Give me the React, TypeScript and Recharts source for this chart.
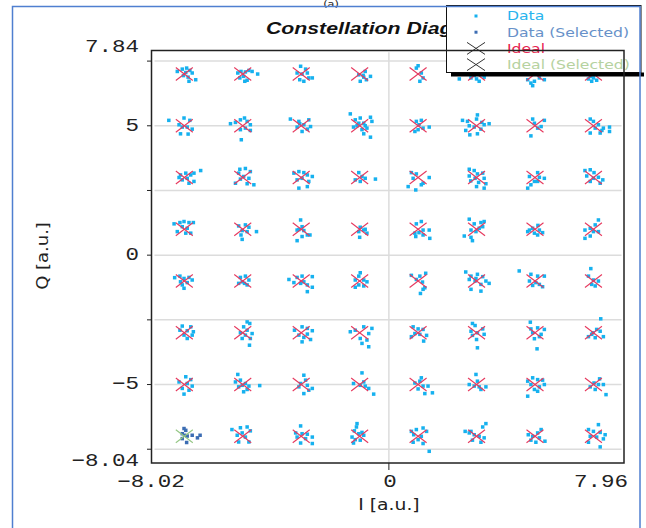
import { ScatterChart, Scatter, XAxis, YAxis, CartesianGrid } from 'recharts';

type Pt = [number, number];

const I_DOMAIN: [number, number] = [-8.02, 7.96];
const Q_DOMAIN: [number, number] = [-8.04, 7.84];
const X_TICKS = [-8.02, 0, 7.96];
const Y_TICKS = [-8.04, -7.5, -5, -2.5, 0, 2.5, 5, 7.5, 7.84];
const Y_LABELED = [7.84, 5, 0, -5, -8.04];
const GRID_Q = [-7.5, -5, -2.5, 0, 2.5, 5, 7.5];
const GRID_I = [0];
const LEVELS = [-7, -5, -3, -1, 1, 3, 5, 7];
const SELECTED_IDEAL: Pt[] = [[-7, -7]];

// received symbols, one array per Q row
const rowQ7: Pt[] = [
  [-7.24, 7.1], [-7.07, 7.19], [-6.92, 7.23], [-6.81, 7.14], [-6.73, 7.04], [-6.87, 6.88], [-7.03, 6.94], [-6.84, 6.72], [-6.61, 6.78], [-6.95, 7.06],
  [-5.17, 7.04], [-5.06, 7.1], [-4.91, 7.08], [-4.79, 7.14], [-4.68, 7.1], [-4.49, 7.0], [-4.97, 6.91], [-5.1, 6.85], [-4.85, 6.76], [-4.93, 6.72],
  [-3.02, 7.3], [-2.85, 7.19], [-3.14, 7.04], [-2.97, 7.0], [-2.79, 7.04], [-2.74, 6.85], [-3.05, 6.78], [-2.91, 6.72], [-2.62, 6.85],
  [-0.81, 7.1], [-0.63, 6.91], [-0.86, 6.88], [-0.98, 6.72], [-0.77, 6.78], [-1.03, 6.97], [-0.88, 6.95],
  [1.0, 7.32], [0.94, 7.23], [1.11, 7.04], [1.17, 6.85], [1.06, 6.72],
  [2.41, 6.81], [2.81, 6.85], [3.0, 6.81], [3.09, 6.72], [3.26, 6.88], [2.92, 6.94], [3.15, 6.97], [2.86, 7.17], [3.09, 7.14],
  [4.75, 6.78], [4.86, 6.65], [4.98, 6.72], [5.15, 6.85], [5.32, 6.78], [4.92, 6.55], [5.05, 7.1], [4.9, 7.2],
  [6.83, 6.81], [7.0, 6.85], [7.11, 6.76], [6.94, 6.72], [6.89, 6.91], [7.06, 7.12],
];
const rowQ5: Pt[] = [
  [-7.53, 5.21], [-7.01, 5.3], [-6.81, 5.21], [-7.18, 5.04], [-7.07, 4.95], [-6.9, 4.95], [-7.13, 4.69], [-6.87, 4.68], [-6.73, 4.87],
  [-5.42, 5.08], [-5.25, 5.13], [-5.08, 5.23], [-4.94, 5.3], [-4.85, 5.17], [-4.74, 5.04], [-4.91, 4.91], [-4.74, 4.82], [-5.08, 4.85], [-5.05, 4.46],
  [-3.37, 5.26], [-3.08, 5.17], [-2.74, 5.23], [-2.91, 5.04], [-3.14, 4.95], [-2.68, 4.97], [-2.97, 4.78], [-2.79, 4.87], [-3.05, 5.08],
  [-1.32, 5.46], [-1.15, 5.23], [-0.98, 5.3], [-0.63, 5.33], [-0.58, 5.17], [-0.86, 5.1], [-1.09, 5.0], [-1.21, 4.95], [-0.92, 4.85], [-0.75, 4.91], [-0.63, 4.56], [-0.86, 4.69], [-1.03, 5.1], [-0.81, 5.0],
  [0.94, 5.17], [1.11, 5.21], [1.03, 5.04], [1.17, 4.91], [1.38, 4.95], [0.89, 4.78], [1.0, 4.85],
  [2.52, 5.21], [2.69, 5.17], [3.03, 5.42], [3.0, 5.26], [3.18, 5.13], [3.43, 5.08], [2.75, 5.0], [2.92, 4.95], [3.15, 4.87], [2.63, 4.82], [2.77, 4.65], [3.03, 4.69], [3.26, 5.04],
  [4.92, 5.26], [5.32, 5.21], [4.98, 5.1], [5.09, 4.91], [4.86, 4.61], [5.21, 4.97],
  [6.89, 5.26], [7.0, 5.17], [7.17, 5.04], [7.06, 4.91], [6.89, 4.72], [7.23, 4.72], [7.34, 4.91], [7.55, 4.95], [7.55, 4.78], [7.29, 4.82],
];
const rowQ3: Pt[] = [
  [-7.13, 3.1], [-6.95, 3.17], [-6.78, 3.1], [-6.67, 3.17], [-6.44, 3.27], [-6.9, 2.97], [-7.07, 2.91], [-6.67, 2.85], [-6.84, 2.78], [-7.18, 3.0],
  [-5.1, 3.32], [-4.91, 3.35], [-4.74, 3.23], [-5.14, 3.17], [-4.97, 3.04], [-4.79, 2.97], [-5.25, 2.78], [-4.85, 2.76], [-4.62, 2.72], [-5.08, 2.94],
  [-3.25, 3.17], [-3.08, 3.23], [-2.91, 3.19], [-2.79, 3.1], [-2.62, 3.04], [-2.97, 2.97], [-2.74, 2.85], [-2.79, 2.65], [-3.08, 2.59], [-3.14, 2.91],
  [-1.03, 3.19], [-0.92, 3.04], [-0.81, 2.97], [-0.98, 2.85], [-0.46, 2.94], [-1.15, 2.91],
  [0.77, 3.19], [0.94, 3.14], [0.83, 2.97], [0.66, 2.65], [0.92, 2.52], [1.11, 2.72], [1.38, 3.0], [1.17, 2.78],
  [2.75, 3.32], [2.92, 3.27], [3.03, 3.14], [3.21, 3.17], [2.75, 3.06], [2.95, 2.97], [3.26, 2.97], [3.07, 2.81], [3.32, 2.76], [3.0, 2.65], [3.26, 2.59], [2.8, 2.87],
  [5.09, 3.19], [4.81, 3.04], [5.15, 3.01], [5.32, 2.97], [4.98, 2.85], [4.86, 2.72], [4.75, 2.59], [5.09, 2.85],
  [6.71, 3.27], [6.89, 3.3], [7.02, 3.19], [6.77, 3.06], [7.0, 2.97], [7.17, 3.01], [7.32, 2.91], [6.89, 2.85], [7.23, 2.78],
];
const rowQ1: Pt[] = [
  [-7.35, 1.21], [-7.15, 1.26], [-7.01, 1.3], [-6.84, 1.26], [-6.69, 1.26], [-7.07, 1.1], [-6.9, 1.04], [-7.24, 0.91], [-6.95, 0.85], [-6.78, 0.85],
  [-5.14, 1.13], [-4.91, 1.17], [-4.79, 1.08], [-5.02, 0.95], [-4.85, 0.91], [-4.53, 0.91], [-5.06, 0.78], [-5.02, 0.61],
  [-3.02, 1.36], [-2.97, 1.1], [-3.14, 0.97], [-2.91, 0.95], [-2.79, 0.78], [-2.7, 0.78], [-2.97, 0.72], [-3.14, 0.56], [-3.08, 0.99],
  [-0.98, 1.08], [-0.86, 0.97], [-0.81, 1.0], [-1.03, 0.91], [-1.0, 0.69], [-0.75, 0.85],
  [0.94, 1.21], [1.11, 1.3], [1.17, 0.97], [1.38, 0.97], [0.89, 0.85], [1.03, 0.87], [0.92, 0.72], [1.17, 0.78], [1.4, 0.65],
  [2.75, 1.39], [2.92, 1.21], [3.15, 1.26], [3.26, 1.3], [2.81, 0.97], [3.09, 1.04], [2.98, 0.91], [2.58, 0.74], [2.81, 0.69], [2.86, 0.56], [3.21, 1.1],
  [4.81, 0.97], [4.92, 1.04], [5.15, 0.97], [5.26, 0.87], [4.98, 0.85], [4.75, 0.91], [5.09, 0.78], [5.1, 1.15],
  [7.17, 1.36], [7.06, 1.17], [6.89, 1.04], [6.71, 0.97], [7.0, 0.91], [7.17, 0.91], [6.89, 0.74], [6.71, 0.65],
];
const rowQm1: Pt[] = [
  [-7.33, -0.87], [-7.15, -0.81], [-7.01, -0.9], [-6.84, -0.86], [-6.73, -0.96], [-7.07, -1.15], [-7.01, -1.28], [-6.9, -1.06], [-7.13, -1.03],
  [-5.08, -0.86], [-4.91, -0.81], [-4.79, -0.96], [-5.02, -1.03], [-4.85, -1.15], [-5.14, -1.09], [-4.94, -1.09],
  [-3.42, -0.94], [-3.14, -0.86], [-2.97, -0.81], [-2.62, -0.83], [-2.91, -1.03], [-3.02, -1.09], [-2.79, -1.15], [-2.62, -1.24], [-2.79, -1.41], [-3.25, -1.06],
  [-0.98, -0.68], [-1.03, -0.81], [-1.15, -0.96], [-0.86, -0.96], [-0.75, -1.03], [-1.03, -1.15], [-0.86, -1.19], [-1.15, -1.24],
  [0.77, -0.78], [1.06, -0.81], [1.26, -0.7], [0.94, -0.94], [1.15, -1.04], [1.23, -1.26], [1.17, -1.32], [1.08, -1.48],
  [2.63, -0.65], [2.81, -0.81], [3.03, -0.74], [3.21, -0.83], [3.32, -1.0], [3.43, -1.09], [2.75, -0.94], [2.95, -1.0], [3.15, -1.13], [2.81, -1.32], [3.15, -1.39], [2.98, -0.9],
  [4.46, -0.61], [4.86, -0.74], [5.09, -0.81], [5.32, -0.81], [4.81, -1.0], [5.03, -1.06], [4.92, -1.17], [5.26, -1.22], [5.15, -1.13],
  [6.91, -0.52], [6.83, -0.81], [7.0, -0.96], [7.17, -1.0], [6.94, -1.13], [7.06, -1.19],
];
const rowQm3: Pt[] = [
  [-7.07, -2.74], [-6.78, -2.77], [-7.15, -2.9], [-6.9, -2.92], [-6.69, -2.96], [-7.01, -3.09], [-6.73, -3.09], [-6.9, -3.22],
  [-4.85, -2.58], [-4.76, -2.64], [-4.97, -2.77], [-5.08, -3.0], [-4.91, -3.09], [-5.02, -3.22], [-4.74, -3.22], [-4.77, -3.48], [-4.85, -2.9], [-4.68, -3.03],
  [-3.23, -2.9], [-2.97, -2.77], [-2.79, -2.83], [-2.62, -2.92], [-3.08, -3.09], [-2.91, -3.18], [-2.68, -3.26], [-2.97, -3.35], [-2.79, -3.05],
  [-1.32, -2.96], [-1.15, -2.9], [-0.86, -2.77], [-0.58, -2.83], [-0.69, -3.03], [-0.98, -3.22], [-0.75, -3.28], [-0.92, -3.41], [-0.69, -3.54],
  [0.83, -2.77], [1.0, -2.85], [1.17, -2.87], [0.89, -3.03], [1.06, -3.06], [1.29, -3.1], [0.77, -3.15], [1.19, -3.32],
  [2.86, -2.64], [2.95, -2.72], [3.21, -2.85], [2.81, -2.94], [3.03, -3.0], [3.26, -3.06], [2.86, -3.1], [3.0, -3.26], [3.03, -3.58],
  [4.84, -2.59], [4.86, -2.85], [5.09, -2.81], [5.32, -2.87], [4.92, -3.0], [5.21, -3.06], [4.98, -3.23], [5.07, -3.62], [5.15, -3.15],
  [7.25, -2.46], [7.11, -2.87], [7.23, -2.94], [7.34, -3.15], [6.94, -3.06], [6.83, -3.15], [7.06, -3.19], [6.98, -3.0],
];
const rowQm5: Pt[] = [
  [-6.95, -4.7], [-6.78, -4.81], [-7.18, -4.9], [-6.9, -4.96], [-6.73, -5.06], [-7.07, -5.15], [-7.01, -5.37], [-6.84, -5.22],
  [-5.17, -4.61], [-5.25, -4.9], [-5.08, -4.83], [-4.91, -4.96], [-4.79, -5.06], [-5.14, -5.09], [-4.97, -5.28], [-4.85, -5.19], [-4.42, -5.04], [-5.02, -5.03],
  [-2.91, -4.64], [-2.85, -4.83], [-3.02, -4.96], [-2.79, -5.03], [-2.62, -5.15], [-3.08, -5.09], [-2.91, -5.35], [-2.74, -5.22],
  [-0.92, -4.55], [-1.21, -4.96], [-0.98, -5.03], [-0.81, -5.06], [-0.69, -5.15], [-0.52, -5.37], [-0.86, -4.9],
  [1.11, -4.74], [1.06, -4.87], [0.89, -4.94], [1.17, -5.06], [1.34, -5.06], [1.0, -5.17], [1.23, -5.35], [1.49, -5.32],
  [2.98, -4.61], [2.75, -5.0], [2.92, -5.06], [3.09, -5.09], [3.32, -5.09], [3.03, -4.87], [3.15, -5.19],
  [4.75, -4.87], [4.92, -4.74], [5.09, -4.81], [5.26, -4.83], [4.86, -5.0], [5.15, -5.09], [4.98, -5.19], [4.75, -5.45], [5.32, -5.0], [5.09, -5.26],
  [7.21, -4.78], [7.02, -4.94], [7.17, -5.0], [7.34, -5.0], [6.89, -5.09], [7.06, -5.19], [7.43, -5.39],
];
const rowQm7: Pt[] = [
  [-5.37, -6.74], [-5.08, -6.67], [-4.85, -6.64], [-4.74, -6.79], [-5.02, -6.87], [-5.19, -6.96], [-4.91, -7.03], [-5.14, -7.22], [-4.79, -7.22],
  [-3.02, -6.6], [-3.19, -6.87], [-2.97, -6.9], [-2.79, -6.92], [-2.62, -7.03], [-3.14, -7.03], [-2.85, -7.09], [-3.02, -7.26], [-2.62, -7.28],
  [-1.09, -6.51], [-1.11, -6.64], [-1.18, -6.79], [-1.03, -6.9], [-1.26, -7.03], [-1.15, -7.13], [-0.86, -6.96], [-0.98, -7.15], [-1.21, -7.26], [-0.92, -6.85],
  [0.77, -6.81], [0.94, -6.74], [1.17, -6.68], [1.29, -6.81], [0.85, -6.94], [1.11, -7.0], [1.0, -7.13], [0.83, -7.23], [1.17, -7.28], [1.38, -7.58],
  [3.32, -6.51], [3.21, -6.64], [2.61, -6.81], [2.75, -6.87], [2.92, -6.94], [3.09, -7.0], [3.26, -7.06], [2.86, -7.15], [3.15, -7.23], [2.81, -6.81],
  [5.21, -6.74], [5.09, -6.87], [4.77, -6.94], [4.92, -7.0], [5.15, -7.06], [5.34, -7.19], [4.86, -7.15], [5.03, -7.23],
  [7.17, -6.55], [6.83, -6.74], [7.0, -6.81], [7.23, -6.85], [7.4, -6.94], [6.89, -7.0], [7.11, -7.03], [6.83, -7.23], [7.23, -7.41], [7.34, -7.1],
];
// the selected cluster (bottom-left)
const selectedData: Pt[] = [
  [-7.01, -6.7], [-6.95, -6.77], [-7.07, -6.9], [-6.99, -6.96], [-6.9, -6.99], [-6.73, -6.96], [-6.55, -7.06], [-6.46, -6.96], [-6.92, -7.24], [-7.07, -7.09],
];

const C_DATA = '#16b1ef';
const C_SEL = '#3c6db3';
const C_IDEAL = '#e6395e';
const C_IDEAL_SEL = '#93c683';

const toPts = (arr: Pt[]) => arr.map(([i, q]) => ({ i, q }));
const dataPts = toPts([...rowQ7, ...rowQ5, ...rowQ3, ...rowQ1, ...rowQm1, ...rowQm3, ...rowQm5, ...rowQm7]);
const selPts = toPts(selectedData);
const isSel = (i: number, q: number) => SELECTED_IDEAL.some(([a, b]) => a === i && b === q);
const idealPts = toPts(LEVELS.flatMap((q) => LEVELS.filter((i) => !isSel(i, q)).map((i) => [i, q] as Pt)));
const idealSelPts = toPts(SELECTED_IDEAL);

const Dot = (color: string) => (p: any) => <rect x={p.cx - 1.75} y={p.cy - 1.75} width={3.5} height={3.5} fill={color} />;
const Cross = (color: string, w = 8.5, h = 6.5) => (p: any) => (
  <g stroke={color} strokeWidth={1.1}>
    <line x1={p.cx - w} y1={p.cy - h} x2={p.cx + w} y2={p.cy + h} />
    <line x1={p.cx - w} y1={p.cy + h} x2={p.cx + w} y2={p.cy - h} />
  </g>
);

const MONO = '"Liberation Mono", "Courier New", monospace';
const SANS = '"DejaVu Sans", Verdana, sans-serif';
const fmt = (v: number) => (v < 0 ? '\u2212' + Math.abs(v) : String(v));

const YTick = ({ y, payload }: any) => {
  const v = payload.value;
  const dy = v === 7.84 ? -5 : v === -8.04 ? -2 : 0;
  return (
    <g>
      {GRID_Q.includes(v) && <line x1={147} x2={152} y1={y} y2={y} stroke="#222" />}
      {Y_LABELED.includes(v) && (
        <text transform={`translate(139,${y + dy}) scale(1.25,1)`} textAnchor="end" dominantBaseline="central" fontFamily={MONO} fontSize={18} fill="#222">
          {fmt(v)}
        </text>
      )}
    </g>
  );
};

const XTick = ({ x, payload }: any) => {
  const v = payload.value;
  const anchor = v === 7.96 ? 'end' : 'middle';
  const tx = v === 7.96 ? 628 : v === -8.02 ? 151 : x + 1;
  return (
    <g>
      {v === 0 && <line x1={x} x2={x} y1={463} y2={470} stroke="#222" />}
      <text transform={`translate(${tx},482) scale(1.25,1)`} textAnchor={anchor} dominantBaseline="central" fontFamily={MONO} fontSize={18} fill="#222">
        {fmt(v)}
      </text>
    </g>
  );
};

const legendRows = [
  { label: 'Data', color: '#27b4ee', marker: 'dot', mcolor: C_DATA },
  { label: 'Data (Selected)', color: '#6791c9', marker: 'dot', mcolor: C_SEL },
  { label: 'Ideal', color: '#e8234f', marker: 'x', mcolor: '#333' },
  { label: 'Ideal (Selected)', color: '#b6d2a0', marker: 'x', mcolor: '#333' },
];

export default function App() {
  return (
    <div style={{ position: 'absolute', left: 0, top: 0, width: 646, height: 528, overflow: 'hidden', background: '#fff' }}>
      <ScatterChart width={646} height={528} margin={{ top: 52.3, right: 24.5, bottom: 24.8, left: 94.5 }}>
        <CartesianGrid horizontalValues={GRID_Q} verticalValues={GRID_I} stroke="#dcdcdc" strokeWidth={1.5} />
        <XAxis type="number" dataKey="i" domain={I_DOMAIN} ticks={X_TICKS} allowDataOverflow height={40} axisLine={false} tickLine={false} tick={<XTick />} interval={0} />
        <YAxis type="number" dataKey="q" domain={Q_DOMAIN} ticks={Y_TICKS} allowDataOverflow width={60} axisLine={false} tickLine={false} tick={<YTick />} interval={0} />
        <Scatter data={dataPts} shape={Dot(C_DATA)} isAnimationActive={false} />
        <Scatter data={selPts} shape={Dot(C_SEL)} isAnimationActive={false} />
        <Scatter data={idealPts} shape={Cross(C_IDEAL)} isAnimationActive={false} />
        <Scatter data={idealSelPts} shape={Cross(C_IDEAL_SEL)} isAnimationActive={false} />
      </ScatterChart>
      <svg width={646} height={528} style={{ position: 'absolute', left: 0, top: 0, pointerEvents: 'none' }}>
        <text transform="translate(331,7) scale(1.25,1)" textAnchor="middle" fontFamily={SANS} fontSize={9} fill="#222">(a)</text>
        <text transform="translate(266,34) scale(1.25,1)" fontFamily='"Liberation Sans", Arial, sans-serif' fontWeight="bold" fontStyle="italic" fontSize={17} fill="#111">
          Constellation Diagram
        </text>
        <text transform="translate(389,505) scale(1.25,1)" textAnchor="middle" dominantBaseline="central" fontFamily={SANS} fontSize={15} fill="#222">I [a.u.]</text>
        <text transform="translate(43,256) rotate(-90) scale(1.2,1)" textAnchor="middle" dominantBaseline="central" fontFamily={SANS} fontSize={15} fill="#222">Q [a.u.]</text>
        {/* legend */}
        <rect x={446.5} y={5.5} width={194.5} height={67} fill="#fff" stroke="#111" strokeWidth={1} />
        <rect x={451} y={72.5} width={193} height={4} fill="#000" />
        {legendRows.map((r, k) => {
          const cy = 16 + k * 16.2;
          return (
            <g key={r.label}>
              {r.marker === 'dot' ? (
                <rect x={474.5} y={cy - 1.5} width={3} height={3} fill={r.mcolor} />
              ) : (
                <g stroke={r.mcolor} strokeWidth={1}>
                  <line x1={467} y1={cy - 6} x2={485} y2={cy + 6} />
                  <line x1={467} y1={cy + 6} x2={485} y2={cy - 6} />
                </g>
              )}
              <text transform={`translate(507,${cy}) scale(1.25,1)`} dominantBaseline="central" fontFamily={SANS} fontSize={12.5} fill={r.color}>
                {r.label}
              </text>
            </g>
          );
        })}
        {/* plot frame and outer border */}
        <rect x={151.5} y={50.5} width={472.5} height={412.5} fill="none" stroke="#222" strokeWidth={1.5} />
        <rect x={12.5} y={6.5} width={627.5} height={560} fill="none" stroke="#4f7fd0" strokeWidth={1.5} />
      </svg>
    </div>
  );
}
